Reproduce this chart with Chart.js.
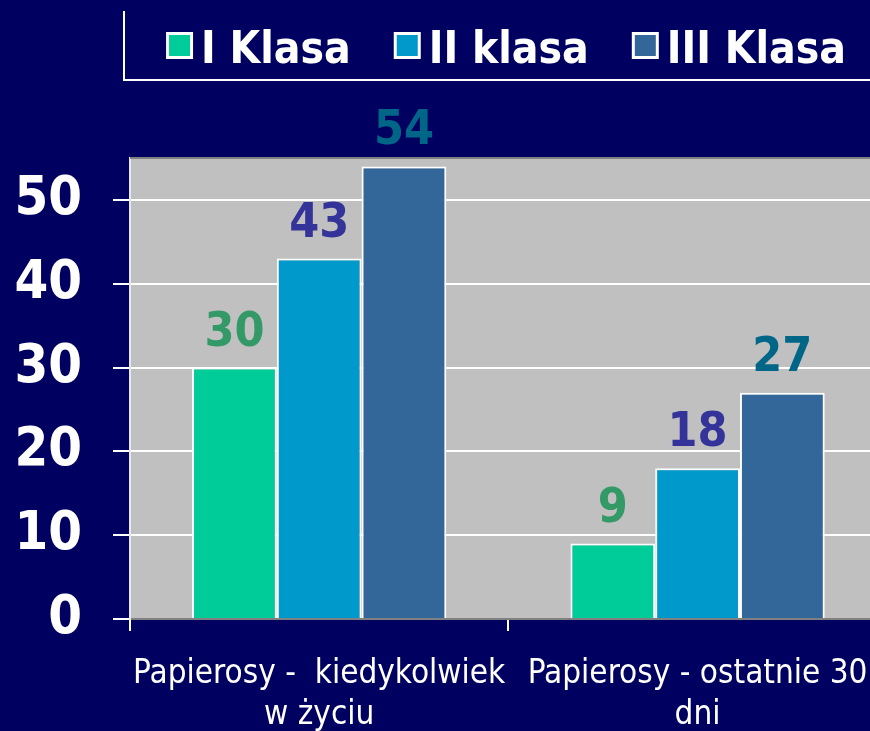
<!DOCTYPE html>
<html>
<head>
<meta charset="utf-8">
<script src="https://cdn.jsdelivr.net/npm/chart.js@4"></script>
<style>
  html, body { margin: 0; padding: 0; background: #000060; overflow: hidden; }
  #wrap { width: 870px; height: 731px; overflow: hidden; }
</style>
</head>
<body>
<div id="wrap"><canvas id="chart" width="890" height="731"></canvas></div>
<script>
const categories = [['Papierosy -  kiedykolwiek', 'w życiu'], ['Papierosy - ostatnie 30', 'dni']];
const seriesNames = ['I Klasa', 'II klasa', 'III Klasa'];
const klasa1 = [30, 9];
const klasa2 = [43, 18];
const klasa3 = [54, 27];
const yTicks = [0, 10, 20, 30, 40, 50];
const barColors = ['#00cc99', '#0099cc', '#336699'];
const labelColors = ['#339966', '#333399', '#006688'];

const FONT = '"DejaVu Sans Condensed", "DejaVu Sans", sans-serif';
Chart.defaults.font.family = FONT;

// navy page, grey plot area
const backdrop = {
  id: 'backdrop',
  beforeDraw(chart) {
    const { ctx, chartArea: a } = chart;
    ctx.save();
    ctx.fillStyle = '#000060';
    ctx.fillRect(0, 0, chart.width, chart.height);
    ctx.fillStyle = '#c0c0c0';
    ctx.fillRect(a.left, a.top, a.right - a.left, a.bottom - a.top);
    ctx.restore();
  },
  beforeDatasetsDraw(chart) {
    const { ctx, chartArea: a } = chart;
    ctx.save();
    ctx.strokeStyle = '#808080';
    ctx.lineWidth = 2;
    ctx.beginPath();
    ctx.moveTo(a.left, a.top);
    ctx.lineTo(a.right, a.top);
    ctx.stroke();
    ctx.restore();
  }
};

// value labels above the bars
const valueLabels = {
  id: 'valueLabels',
  afterDatasetsDraw(chart) {
    const ctx = chart.ctx;
    ctx.save();
    ctx.font = 'bold 48px ' + FONT;
    ctx.textAlign = 'center';
    ctx.textBaseline = 'alphabetic';
    chart.data.datasets.forEach((ds, i) => {
      ctx.fillStyle = labelColors[i];
      chart.getDatasetMeta(i).data.forEach((bar, j) => {
        ctx.fillText(ds.data[j], bar.x, bar.y - 22);
      });
    });
    ctx.restore();
  }
};

// framed legend at the top
const topLegend = {
  id: 'topLegend',
  afterDraw(chart) {
    const ctx = chart.ctx;
    ctx.save();
    ctx.strokeStyle = '#ffffff';
    ctx.lineWidth = 2;
    ctx.beginPath();
    ctx.moveTo(124, 11);
    ctx.lineTo(124, 80);
    ctx.lineTo(chart.width, 80);
    ctx.stroke();

    ctx.font = 'bold 44px ' + FONT;
    ctx.textBaseline = 'alphabetic';
    const box = 25, gap = 10, spacing = 43;
    const widths = chart.data.datasets.map(ds => ctx.measureText(ds.label).width);
    const total = widths.reduce((s, w) => s + box + gap + w, 0) + spacing * (widths.length - 1);
    let x = 506 - total / 2;
    chart.data.datasets.forEach((ds, i) => {
      ctx.fillStyle = '#ffffff';
      ctx.fillRect(x, 32, box + 2, box + 2);
      ctx.fillStyle = ds.backgroundColor;
      ctx.fillRect(x + 3, 35, box - 4, box - 4);
      ctx.fillStyle = '#ffffff';
      ctx.fillText(ds.label, x + box + gap, 63);
      x += box + gap + widths[i] + spacing;
    });
    ctx.restore();
  }
};

new Chart(document.getElementById('chart'), {
  type: 'bar',
  data: {
    labels: categories,
    datasets: [klasa1, klasa2, klasa3].map((d, i) => ({
      label: seriesNames[i],
      data: d,
      backgroundColor: barColors[i],
      borderColor: '#ffffff',
      borderWidth: 2,
      categoryPercentage: 0.672,
      barPercentage: 1
    }))
  },
  options: {
    responsive: false,
    animation: false,
    layout: { padding: { top: 158, right: 2, left: 0, bottom: 0 } },
    plugins: {
      legend: { display: false },
      tooltip: { enabled: false }
    },
    scales: {
      x: {
        afterFit: s => { s.height = 112; },
        grid: { drawOnChartArea: false, color: '#ffffff', lineWidth: 2, tickLength: 12 },
        border: { color: '#808080', width: 2 },
        ticks: {
          color: '#ffffff',
          padding: 22,
          maxRotation: 0,
          font: { size: 33, lineHeight: 1.27 }
        }
      },
      y: {
        min: 0,
        max: 55,
        afterFit: s => { s.width = 130; },
        afterBuildTicks: s => { s.ticks = yTicks.map(v => ({ value: v })); },
        grid: { color: '#ffffff', lineWidth: 2, tickLength: 17, tickColor: '#ffffff' },
        border: { color: '#e8e8e8', width: 2 },
        ticks: {
          autoSkip: false,
          color: '#ffffff',
          padding: 31,
          font: { size: 54, weight: 'bold' }
        }
      }
    }
  },
  plugins: [backdrop, valueLabels, topLegend]
});
</script>
</body>
</html>
